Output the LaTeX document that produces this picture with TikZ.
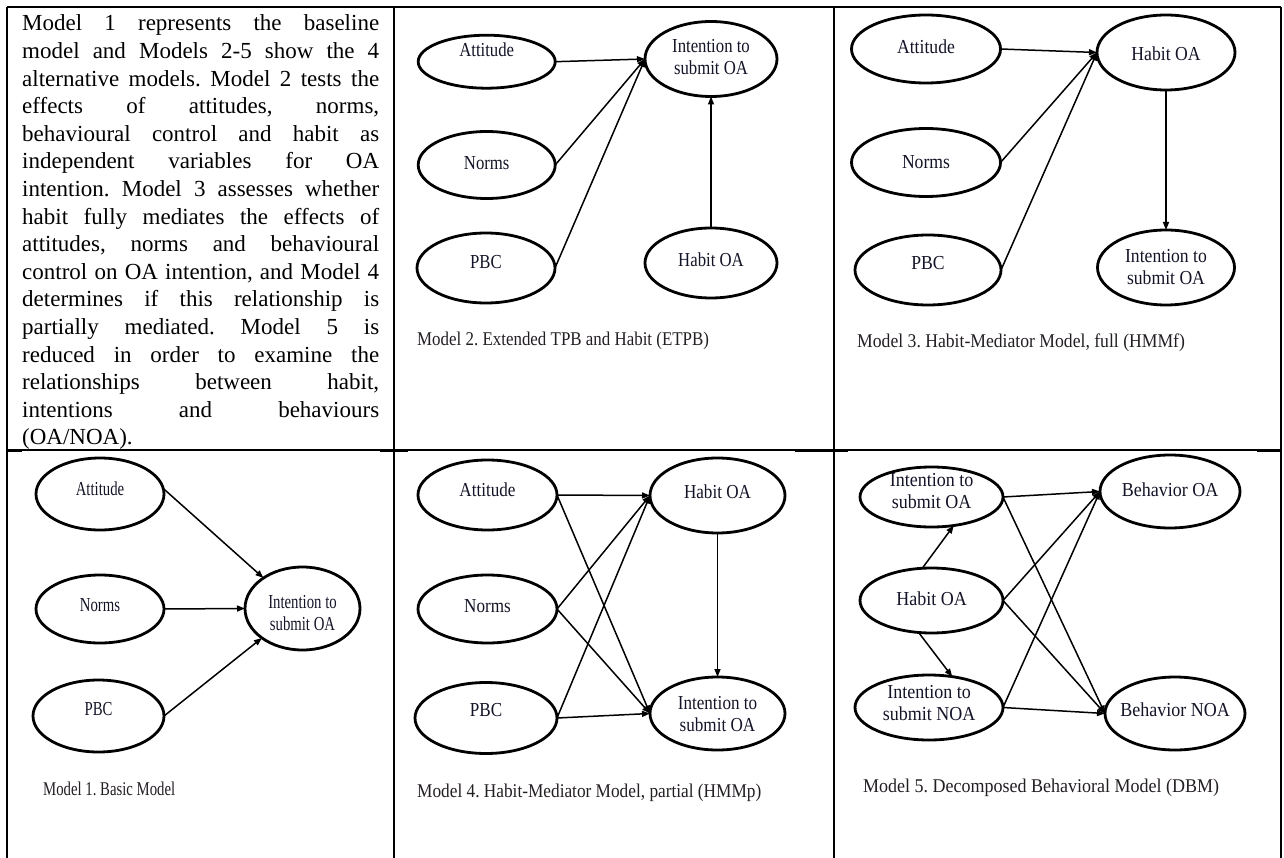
\documentclass[tikz,border=0pt]{standalone}
\usepackage{fontspec}
\setmainfont{Liberation Serif}
\usepackage{graphicx}
\usetikzlibrary{shapes.geometric,arrows.meta}
\definecolor{txt}{RGB}{20,20,40}
\definecolor{capc}{RGB}{35,30,35}
\newcommand{\lb}[2]{\scalebox{#1}[1.1]{\begin{tabular}{@{}c@{}}#2\end{tabular}}}
\newcommand{\bl}[1]{\makebox[\linewidth][s]{#1}\\}
\frenchspacing
\begin{document}
\begin{tikzpicture}[x=1pt,y=-1pt,
  ell/.style 2 args={draw, ellipse, line width=2.8pt, minimum width=#1, minimum height=#2, inner sep=0pt, outer sep=0pt},
  lab/.style={inner sep=0pt, text=txt, font=\fontsize{18}{20}\selectfont},
  capt/.style={anchor=base west, inner sep=0pt, text=capc, font=\fontsize{18}{22}\selectfont},
  arr/.style={line width=1.5pt, -{Triangle[length=8pt,width=6pt]}},
  frame/.style={line width=2pt},
  thin/.style={line width=1.2pt},
]
\useasboundingbox (0,0) rectangle (1284,858);
% table frame
\draw[frame] (7,7) -- (1281,7);
\draw[frame] (7,7) -- (7,858);
\draw[frame] (394,7) -- (394,858);
\draw[frame] (834,7) -- (834,858);
\draw[frame] (1281,7) -- (1281,858);
\draw[thin] (7,450) -- (1281,450);
\draw[frame] (7,451) -- (22,451);
\draw[frame] (380,451) -- (408,451);
\draw[frame] (795,451) -- (848,451);
\draw[frame] (1257,451) -- (1281,451);

% body text
\node[anchor=base west, inner sep=0pt] (body) at (22,31) {\parbox[t]{357pt}{\fontsize{23}{27.6}\selectfont\frenchspacing
\bl{Model 1 represents the baseline}
\bl{model and Models 2-5 show the 4}
\bl{alternative models. Model 2 tests the}
\bl{effects of attitudes, norms,}
\bl{behavioural control and habit as}
\bl{independent variables for OA}
\bl{intention. Model 3 assesses whether}
\bl{habit fully mediates the effects of}
\bl{attitudes, norms and behavioural}
\bl{control on OA intention, and Model 4}
\bl{determines if this relationship is}
\bl{partially mediated. Model 5 is}
\bl{reduced in order to examine the}
\bl{relationships between habit,}
\bl{intentions and behaviours}
(OA/NOA).}};

% ---------- Model 2 ----------
\node[ell={137pt}{53pt}] (a2) at (486.7,61.7) {};
\node[lab] (ta2) at (486.7,52.6) {\lb{0.93}{Attitude}};
\node[ell={137pt}{67pt}] (n2) at (486.7,165) {};
\node[lab] (tn2) at (486.7,165.6) {\lb{0.93}{Norms}};
\node[ell={138pt}{70pt}] (p2) at (486,268) {};
\node[lab] (tp2) at (486,263.7) {\lb{0.93}{PBC}};
\node[ell={132pt}{75pt}] (i2) at (711,59) {};
\node[lab] (ti2) at (711,59.6) {\lb{0.93}{Intention to\\submit OA}};
\node[ell={132pt}{70pt}] (h2) at (711,263) {};
\node[lab] (th2) at (711,262.3) {\lb{0.93}{Habit OA}};
\draw[arr] (a2.east) -- (i2.west);
\draw[arr] (n2.east) -- (i2.west);
\draw[arr] (p2.east) -- (i2.west);
\draw[arr] (h2.north) -- (i2.south);
\node[capt] (c2) at (417,345) {\scalebox{0.94}[1.08]{Model 2. Extended TPB and Habit (ETPB)}};

% ---------- Model 3 ----------
\node[ell={149pt}{68pt}] (a3) at (926,49) {};
\node[lab] (ta3) at (926,49) {\lb{0.98}{Attitude}};
\node[ell={149pt}{68pt}] (n3) at (926,162.5) {};
\node[lab] (tn3) at (926,164) {\lb{0.98}{Norms}};
\node[ell={146pt}{70pt}] (p3) at (928,270) {};
\node[lab] (tp3) at (928,265.6) {\lb{0.98}{PBC}};
\node[ell={138pt}{75pt}] (h3) at (1166,52.5) {};
\node[lab] (th3) at (1166,56.3) {\lb{0.98}{Habit OA}};
\node[ell={137pt}{75pt}] (i3) at (1166,267.5) {};
\node[lab] (ti3) at (1166,269.6) {\lb{0.98}{Intention to\\submit OA}};
\draw[arr] (a3.east) -- (h3.west);
\draw[arr] (n3.east) -- (h3.west);
\draw[arr] (p3.east) -- (h3.west);
\draw[arr] (h3.south) -- (i3.north);
\node[capt] (c3) at (857,348) {\scalebox{0.98}[1.08]{Model 3. Habit-Mediator Model, full (HMMf)}};

% ---------- Model 1 ----------
\node[ell={128pt}{72pt}] (a1) at (100,494) {};
\node[lab] (ta1) at (100,490.6) {\lb{0.82}{Attitude}};
\node[ell={128pt}{68pt}] (n1) at (100,609) {};
\node[lab] (tn1) at (100,607.3) {\lb{0.82}{Norms}};
\node[ell={131pt}{72pt}] (p1) at (98.5,716) {};
\node[lab] (tp1) at (98.5,710.6) {\lb{0.82}{PBC}};
\node[ell={115pt}{83pt}] (i1) at (302.5,608.5) {};
\node[lab] (ti1) at (302.5,614.6) {\lb{0.82}{Intention to\\submit OA}};
\draw[arr] (a1.5) -- (i1.142);
\draw[arr] (n1.east) -- (i1.west);
\draw[arr] (p1.east) -- (i1.216);
\node[capt] (c1) at (43,795) {\scalebox{0.82}[1.08]{Model 1. Basic Model}};

% ---------- Model 4 ----------
\node[ell={139pt}{70pt}] (a4) at (487.5,495) {};
\node[lab] (ta4) at (487.5,492.3) {\lb{0.95}{Attitude}};
\node[ell={139pt}{68pt}] (n4) at (487.5,609) {};
\node[lab] (tn4) at (487.5,608.3) {\lb{0.95}{Norms}};
\node[ell={142pt}{71pt}] (p4) at (486,718) {};
\node[lab] (tp4) at (486,711.6) {\lb{0.95}{PBC}};
\node[ell={135pt}{75pt}] (h4) at (717.5,495.5) {};
\node[lab] (th4) at (717.5,494) {\lb{0.95}{Habit OA}};
\node[ell={135pt}{73pt}] (i4) at (717.5,713.5) {};
\node[lab] (ti4) at (717.5,716.3) {\lb{0.95}{Intention to\\submit OA}};
\draw[arr] (a4.east) -- (h4.west);
\draw[arr] (a4.east) -- (i4.west);
\draw[arr] (n4.east) -- (h4.west);
\draw[arr] (n4.east) -- (i4.west);
\draw[arr] (p4.east) -- (h4.west);
\draw[arr] (p4.east) -- (i4.west);
\draw[arr] (h4.south) -- (i4.north);
\node[capt] (c4) at (417,797) {\scalebox{0.96}[1.08]{Model 4. Habit-Mediator Model, partial (HMMp)}};

% ---------- Model 5 ----------
\node[ell={143pt}{60pt}] (io5) at (931.5,497) {};
\node[lab] (tio5) at (931.5,493) {\lb{1}{Intention to\\submit OA}};
\node[ell={143pt}{65pt}] (hb5) at (931.5,600.5) {};
\node[lab] (thb5) at (931.5,600.6) {\lb{1}{Habit OA}};
\node[ell={148pt}{65pt}] (in5) at (929,707.5) {};
\node[lab] (tin5) at (929,704.6) {\lb{1}{Intention to\\submit NOA}};
\node[ell={140pt}{73pt}] (bo5) at (1170,491.5) {};
\node[lab] (tbo5) at (1170,492.3) {\lb{1}{Behavior OA}};
\node[ell={140pt}{73pt}] (bn5) at (1175,713.5) {};
\node[lab] (tbn5) at (1175,712.3) {\lb{1}{Behavior NOA}};
\draw[arr] (io5.east) -- (bo5.west);
\draw[arr] (io5.east) -- (bn5.west);
\draw[arr] (hb5.east) -- (bo5.west);
\draw[arr] (hb5.east) -- (bn5.west);
\draw[arr] (in5.east) -- (bo5.west);
\draw[arr] (in5.east) -- (bn5.west);
\draw[arr] (hb5.106) -- (io5.308);
\draw[arr] (hb5.248) -- (in5.53);
\node[capt] (c5) at (863,792) {\scalebox{1}[1.08]{Model 5. Decomposed Behavioral Model (DBM)}};
\end{tikzpicture}
\end{document}
